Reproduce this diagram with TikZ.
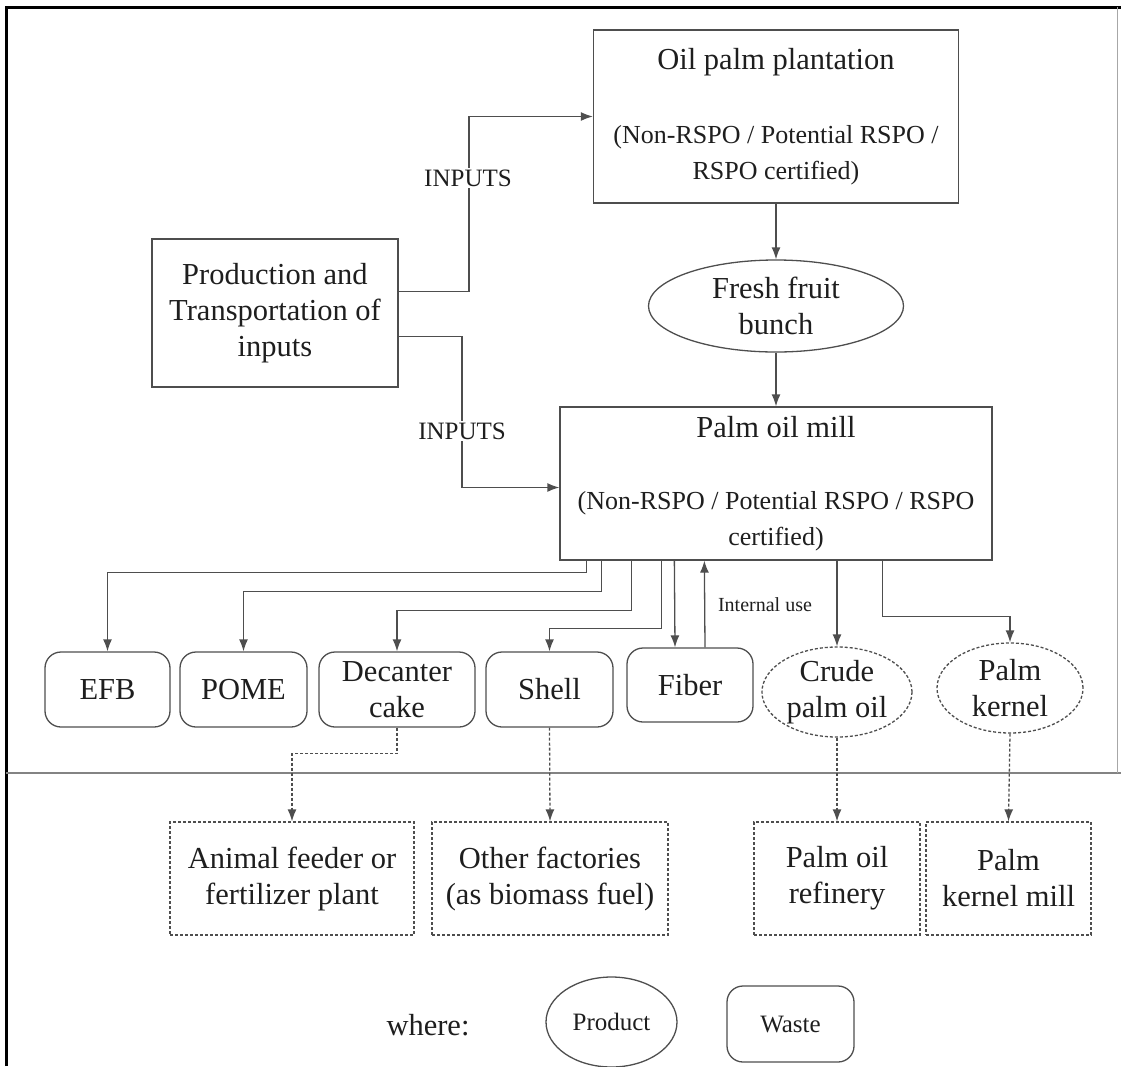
\documentclass[tikz,border=0pt]{standalone}
\usepackage{fontspec}
\setmainfont{Liberation Serif}
\usetikzlibrary{shapes.geometric,arrows.meta}
\definecolor{linec}{HTML}{4E4E4E}
\definecolor{txt}{HTML}{1E1E1E}
\newcommand\fbig{\fontsize{30.5}{36}\selectfont}
\newcommand\fmid{\fontsize{26}{36}\selectfont}
\newcommand\flab{\fontsize{25}{30}\selectfont}
\newcommand\fsml{\fontsize{20}{24}\selectfont}
\tikzset{
  box/.style={draw=linec, line width=1.3pt, align=center, inner sep=0pt, text=txt, font=\fbig},
  waste/.style={box, rounded corners=16pt},
  prodell/.style={box, ellipse},
  dashedbox/.style={box, dash pattern=on 3pt off 2pt},
  dashedell/.style={box, ellipse, dash pattern=on 3pt off 2pt},
  arr/.style={draw=linec, line width=1.3pt, -{Latex[length=12pt,width=9pt]}},
  darr/.style={arr, dash pattern=on 3pt off 2pt},
  lbl/.style={fill=white, inner sep=2pt, text=txt},
}
\begin{document}
\begin{tikzpicture}[x=1pt,y=-1pt]
\useasboundingbox (0,0) rectangle (1121,1066);
% frame
\draw[black, line width=3pt] (6,1066) -- (6,7) -- (1121,7);
\draw[linec!70, line width=1.6pt] (6,773) -- (1121,773);
\draw[linec!50, line width=1pt] (1117,7) -- (1117,773);

% main nodes
\node[box, minimum width=246pt, minimum height=148pt] (prod) at (275,313)
  {Production and\\Transportation of\\inputs};
\node[box, font=\fmid, minimum width=365pt, minimum height=173pt] (plant) at (776,116.5)
  {{\fbig Oil palm plantation}\\[38pt](Non-RSPO / Potential RSPO /\\RSPO certified)};
\node[prodell, minimum width=255pt, minimum height=92pt] (ffb) at (776,306)
  {Fresh fruit\\bunch};
\node[box, font=\fmid, minimum width=432pt, minimum height=153pt] (mill) at (776,483.5)
  {{\fbig Palm oil mill}\\[36pt](Non-RSPO / Potential RSPO / RSPO\\certified)};

% by-products
\node[waste, minimum width=125pt, minimum height=75pt] (efb) at (107.5,689.5) {EFB};
\node[waste, minimum width=127pt, minimum height=75pt] (pome) at (243.5,689.5) {POME};
\node[waste, minimum width=156pt, minimum height=75pt] (dec) at (397,689.5) {Decanter\\cake};
\node[waste, minimum width=127pt, minimum height=75pt] (shell) at (549.5,689.5) {Shell};
\node[waste, minimum width=126pt, minimum height=74pt] (fiber) at (690,685) {Fiber};
\node[dashedell, minimum width=150pt, minimum height=90pt] (crude) at (837,692) {Crude\\palm oil};
\node[dashedell, minimum width=146pt, minimum height=90pt] (kern) at (1010,688) {Palm\\kernel};

% destinations
\node[dashedbox, minimum width=244pt, minimum height=113pt] (animal) at (292,878.5) {Animal feeder or\\fertilizer plant};
\node[dashedbox, minimum width=236pt, minimum height=113pt] (other) at (550,878.5) {Other factories\\(as biomass fuel)};
\node[dashedbox, minimum width=166pt, minimum height=113pt] (refin) at (837,878.5) {Palm oil\\refinery};
\node[dashedbox, minimum width=165pt, minimum height=113pt] (kmill) at (1008.5,878.5) {Palm\\kernel mill};

% inputs connectors
\coordinate (ka) at (469,200);
\coordinate (kb) at (462,431);
\draw[arr] ([yshift=-53pt]prod.north east) -| (ka) |- (plant.west);
\draw[arr] ([yshift=51pt]prod.south east) -| (kb) |- ([yshift=-4pt]mill.west);
\node[lbl, font=\flab] (inA) at (468,178) {INPUTS};
\node[lbl, font=\flab] (inB) at (462,431) {INPUTS};

% main flow
\draw[arr] (plant.south) -- (ffb.north);
\draw[arr] (ffb.south) -- (mill.north);

% mill outputs
\draw[arr] ([xshift=27pt]mill.south west) |- ([yshift=79pt]efb.north) -- (efb.north);
\draw[arr] ([xshift=42pt]mill.south west) |- ([yshift=60pt]pome.north) -- (pome.north);
\draw[arr] ([xshift=72pt]mill.south west) |- ([yshift=41pt]dec.north) -- (dec.north);
\draw[arr] ([xshift=102pt]mill.south west) |- ([yshift=23pt]shell.north) -- (shell.north);
\draw[arr] ([xshift=115pt]mill.south west) -- ([xshift=-15pt]fiber.north);
\draw[arr] ([xshift=15pt]fiber.north) -- ([xshift=145pt]mill.south west);
\node[text=txt, font=\fsml, inner sep=0pt] (intuse) at (765,605) {Internal use};
\draw[arr] (mill.south -| crude.north) -- (crude.north);
\draw[arr] ([xshift=323pt]mill.south west) |- ([yshift=26pt]kern.north) -- (kern.north);

% to destinations
\draw[darr] (dec.south) -- ++(0,26) -| (animal.north);
\draw[darr] (shell.south) -- (other.north);
\draw[darr] (crude.south) -- (refin.north);
\draw[darr] (kern.south) -- (kmill.north);

% legend
\node[text=txt, font=\fbig, inner sep=0pt] (where) at (428,1025) {where:};
\node[prodell, font=\flab, minimum width=131pt, minimum height=90pt] (lprod) at (611.5,1022) {Product};
\node[waste, font=\flab, minimum width=127pt, minimum height=76pt] (lwaste) at (790.5,1024) {Waste};
\end{tikzpicture}
\end{document}
